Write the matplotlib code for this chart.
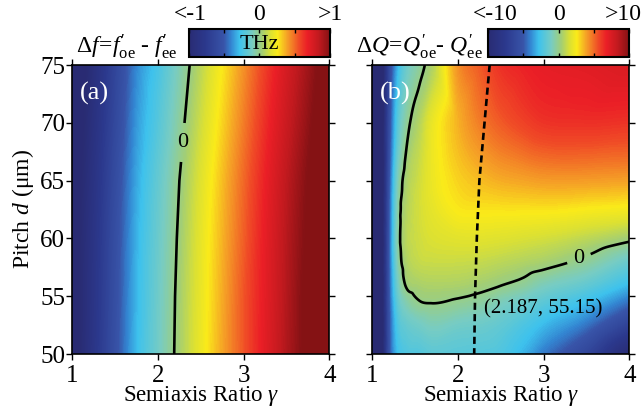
import numpy as np
import matplotlib
matplotlib.use('Agg')
import matplotlib.pyplot as plt
from matplotlib.colors import LinearSegmentedColormap, Normalize
import matplotlib.cm as cm
import matplotlib.tri as mtri

plt.rcParams['font.family'] = ['Liberation Serif', 'DejaVu Serif']
plt.rcParams['mathtext.fontset'] = 'custom'
plt.rcParams['mathtext.rm'] = 'Liberation Serif'
plt.rcParams['mathtext.it'] = 'Liberation Serif:italic'
plt.rcParams['mathtext.bf'] = 'Liberation Serif:bold'

# ---------------- data: panel (a) Δf (THz) ----------------
gamma_a = [1.0, 1.25, 1.5, 1.75, 2.0, 2.25, 2.5, 2.75, 3.0, 3.25, 3.5, 3.75, 4.0]
pitch_a = [50, 55, 60, 65, 70, 75]
df_d50 = [-1.10, -0.82, -0.55, -0.30, -0.125, 0.04, 0.21, 0.38, 0.54, 0.71, 0.88, 1.04, 1.20]
df_d55 = [-1.10, -0.83, -0.56, -0.31, -0.134, 0.034, 0.20, 0.37, 0.54, 0.70, 0.87, 1.04, 1.20]
df_d60 = [-1.10, -0.84, -0.57, -0.32, -0.147, 0.02, 0.19, 0.355, 0.52, 0.69, 0.86, 1.02, 1.19]
df_d65 = [-1.12, -0.86, -0.59, -0.34, -0.168, 0.0, 0.168, 0.335, 0.50, 0.67, 0.84, 1.00, 1.17]
df_d70 = [-1.15, -0.89, -0.62, -0.37, -0.21, -0.04, 0.127, 0.295, 0.46, 0.63, 0.80, 0.96, 1.13]
df_d75 = [-1.18, -0.92, -0.65, -0.40, -0.25, -0.08, 0.087, 0.255, 0.42, 0.59, 0.76, 0.92, 1.09]

# ---------------- data: panel (b) ΔQ ----------------
gamma_b = [1.0, 1.1, 1.2, 1.3, 1.4, 1.55, 1.7, 2.0, 2.25, 2.5, 2.75, 3.0, 3.5, 4.0]
pitch_b = [50, 52.5, 54.5, 56, 58, 60, 62.5, 65, 70, 75]
dq_d50_0 = [-14, -12, -5.6, -2.9, -2.3, -2.2, -1.9, -2.0, -2.1, -2.3, -3.1, -4.3, -6.5, -10]
dq_d52_5 = [-14, -12, -5.5, -2.4, -1.6, -1.2, -0.9, -1.2, -1.35, -1.7, -2.3, -3.0, -4.4, -6.8]
dq_d54_5 = [-14, -12, -5.4, -1.8, -0.7, -0.05, 0.05, -0.15, -0.4, -0.9, -1.35, -1.9, -2.9, -4.5]
dq_d56_0 = [-14, -12, -5.3, -1.3, 0.15, 0.5, 0.6, 0.55, 0.35, 0.05, -0.3, -0.9, -1.7, -3.0]
dq_d58_0 = [-14, -12, -5.2, -0.8, 0.55, 1.1, 1.2, 1.2, 1.1, 0.9, 0.68, 0.45, -0.3, -1.5]
dq_d60_0 = [-14, -12, -5.2, -0.6, 0.8, 1.3, 1.6, 1.8, 1.8, 1.7, 1.55, 1.4, 0.9, 0.25]
dq_d62_5 = [-14, -12, -5.3, -0.7, 0.65, 1.4, 1.9, 2.6, 2.7, 2.7, 2.7, 2.7, 2.5, 2.3]
dq_d65_0 = [-14, -12, -5.5, -1.0, 0.45, 1.3, 2.1, 3.0, 3.4, 3.7, 3.85, 4.0, 4.0, 3.9]
dq_d70_0 = [-14, -12, -6.0, -2.1, -0.4, 0.7, 2.0, 3.6, 4.6, 5.3, 5.8, 6.2, 6.3, 6.2]
dq_d75_0 = [-14, -12, -6.5, -3.2, -1.5, -0.4, 0.6, 4.2, 5.3, 6.3, 6.7, 7.0, 7.2, 7.5]

point_label = "(2.187, 55.15)"
cbar_a_ticks = [-1, -0.5, 0, 0.5, 1]
cbar_a_labels = ['<-1', '', '0', '', '>1']
cbar_b_ticks = [-10, -5, 0, 5, 10]
cbar_b_labels = ['<-10', '', '0', '', '>10']

DF = np.array([df_d50, df_d55, df_d60, df_d65, df_d70, df_d75])
DQ = np.array([dq_d50_0, dq_d52_5, dq_d54_5, dq_d56_0, dq_d58_0,
               dq_d60_0, dq_d62_5, dq_d65_0, dq_d70_0, dq_d75_0])

# ---------------- colormap ----------------
nodes = [
    (0.00, (0.16, 0.17, 0.45)),
    (0.12, (0.17, 0.22, 0.55)),
    (0.25, (0.22, 0.33, 0.66)),
    (0.30, (0.20, 0.52, 0.82)),
    (0.36, (0.24, 0.76, 0.93)),
    (0.45, (0.47, 0.80, 0.76)),
    (0.52, (0.64, 0.81, 0.45)),
    (0.58, (0.86, 0.88, 0.20)),
    (0.63, (0.98, 0.92, 0.10)),
    (0.70, (0.96, 0.62, 0.15)),
    (0.78, (0.94, 0.30, 0.15)),
    (0.84, (0.92, 0.12, 0.15)),
    (0.92, (0.76, 0.10, 0.12)),
    (1.00, (0.52, 0.07, 0.08)),
]
cmap = LinearSegmentedColormap.from_list('custom_jet', nodes, N=512)

W, H = 643, 411
fig = plt.figure(figsize=(W / 100, H / 100), dpi=100)

def box(x0, y0, x1, y1):
    return [x0 / W, 1 - y1 / H, (x1 - x0) / W, (y1 - y0) / H]

ax_a = fig.add_axes(box(72.3, 65, 329.3, 354))
ax_b = fig.add_axes(box(372.3, 65, 629.3, 354))
cax_a = fig.add_axes(box(188.5, 29.5, 330, 57))
cax_b = fig.add_axes(box(488, 29.5, 629, 57))

norm_a = Normalize(-1, 1)
norm_b = Normalize(-10, 10)

def grid_tri(x, y, z):
    gx, gy = np.meshgrid(np.asarray(x, float), np.asarray(y, float))
    tri = mtri.Triangulation(gx.ravel(), gy.ravel())
    return tri, z.ravel()

def smooth_field(x, y, z):
    tri, zz = grid_tri(x, y, z)
    interp = mtri.CubicTriInterpolator(tri, zz, kind='geom')
    ref = mtri.UniformTriRefiner(tri)
    return ref.refine_field(zz, triinterpolator=interp, subdiv=4)

def fill(ax, tri, z, norm):
    lev = np.linspace(norm.vmin, norm.vmax, 201)
    cs = ax.tricontourf(tri, z, levels=lev, cmap=cmap, norm=norm, extend='both')
    cs.set_edgecolor('face')
    cs.set_linewidth(0.4)
    return cs

# panel (a): smooth fill, linear zero line
tri_a_s, z_a_s = smooth_field(gamma_a, pitch_a, DF)
fill(ax_a, tri_a_s, z_a_s, norm_a)
c_a = ax_a.contour(gamma_a, pitch_a, DF, levels=[0], colors='k', linewidths=1.9)
la = ax_a.clabel(c_a, fmt={0: '0'}, manual=[(2.286, 68.3)], inline=True,
                 inline_spacing=14, fontsize=16)

# panel (b)
tri_b, z_b = smooth_field(gamma_b, pitch_b, DQ)
fill(ax_b, tri_b, z_b, norm_b)
c_b = ax_b.tricontour(tri_b, z_b, levels=[0], colors='k', linewidths=1.9)
lb = ax_b.clabel(c_b, fmt={0: '0'}, manual=[(3.42, 58.1)], inline=True,
                 inline_spacing=7, fontsize=16)
for t in list(la) + list(lb):
    t.set_rotation(0)
ax_b.contour(gamma_a, pitch_a, DF, levels=[0], colors='k', linewidths=1.9,
             linestyles=[(0, (2.7, 1.6))])
ax_b.text(2.3, 53.9, point_label, fontsize=15, ha='left', va='center')

for ax, lab in ((ax_a, '(a)'), (ax_b, '(b)')):
    ax.set_xlim(1, 4)
    ax.set_ylim(50, 75)
    ax.set_xticks([1, 2, 3, 4])
    ax.set_yticks([50, 55, 60, 65, 70, 75])
    ax.tick_params(direction='out', length=4, width=1.0, top=True, right=True,
                   labelsize=18)
    ax.tick_params(axis='x', pad=4)
    ax.tick_params(axis='y', pad=1)
    for s in ax.spines.values():
        s.set_linewidth(1.2)
    ax.set_xlabel(r'Semiaxis Ratio $\gamma$', fontsize=16.5, va='top')
    ax.xaxis.set_label_coords(0.5, -0.104)
    ax.text(0.028, 0.94, lab, transform=ax.transAxes, color='white',
            fontsize=19, ha='left', va='top')
ax_b.set_yticklabels([])
ax_a.set_ylabel('Pitch $d$ (μm)', fontsize=17, labelpad=3)

def cbar(cax, norm, ticks, labels, shifts):
    cb = fig.colorbar(cm.ScalarMappable(norm=norm, cmap=cmap), cax=cax,
                      orientation='horizontal')
    cb.set_ticks(ticks)
    cb.set_ticklabels([''] * len(ticks))
    cax.xaxis.set_ticks_position('both')
    cax.tick_params(axis='x', direction='in', length=3, width=1.0,
                    labeltop=False, labelbottom=False)
    cb.outline.set_linewidth(1.5)
    for v, s, dx in zip(ticks, labels, shifts):
        if s:
            cax.annotate(s, xy=(v, 1.0), xycoords=cax.get_xaxis_transform(),
                         xytext=(dx, 3), textcoords='offset points',
                         ha='center', va='bottom', fontsize=17)
    return cb

cbar(cax_a, norm_a, cbar_a_ticks, cbar_a_labels, [1, 0, 0, 0, 0])
cbar(cax_b, norm_b, cbar_b_ticks, cbar_b_labels, [5, 0, 0, 0, -4.5])
cax_a.text(0.5, 0.45, 'THz', transform=cax_a.transAxes, ha='center',
           va='center', fontsize=16)
cax_a.text(-0.08, 0.38,
           r"$\mathit{Δ}f\!=\!f^{\prime}_{\mathrm{oe}}$ - $f^{\prime}_{\mathrm{ee}}$",
           transform=cax_a.transAxes, ha='right', va='center', fontsize=17)
cax_b.text(-0.035, 0.38,
           r"$\mathit{Δ}Q\!=\!Q^{\prime}_{\mathrm{oe}}$- $Q^{\prime}_{\mathrm{ee}}$",
           transform=cax_b.transAxes, ha='right', va='center', fontsize=17)

fig.savefig('out.png', dpi=100)
